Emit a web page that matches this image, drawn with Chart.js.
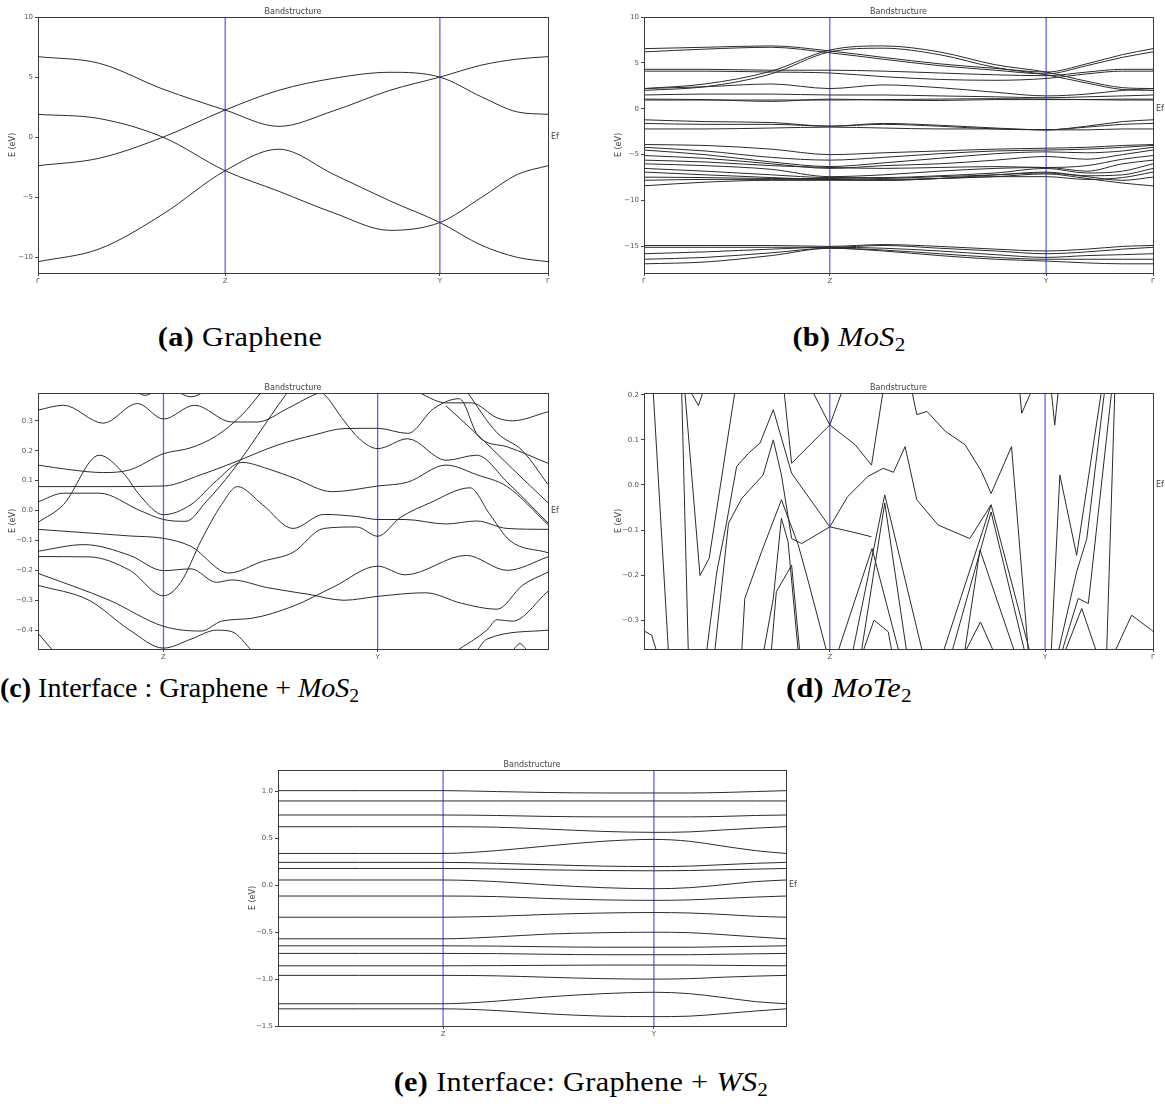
<!DOCTYPE html>
<html>
<head>
<meta charset="utf-8">
<script src="https://cdn.jsdelivr.net/npm/chart.js@4.4.1/dist/chart.umd.min.js"></script>
<style>
  body { margin: 0; background: #fff; width: 1165px; height: 1109px; position: relative; overflow: hidden; }
  canvas { position: absolute; }
  .cap { position: absolute; font-family: 'Liberation Serif', serif; font-size: 28px; line-height: 1; color: #000;
         white-space: nowrap; transform: translate(-50%, -50%) scaleX(1.08); letter-spacing: 0.3px; }
  .cap.left { transform: translateY(-50%); transform-origin: left center; letter-spacing: 0; }
  .cap sub { font-size: 0.7em; vertical-align: -0.25em; line-height: 0; }
</style>
</head>
<body>
<canvas id="chartA" width="560" height="290" style="left:0;top:0"></canvas>
<canvas id="chartB" width="565" height="290" style="left:600px;top:0"></canvas>
<canvas id="chartC" width="560" height="292" style="left:0;top:375px"></canvas>
<canvas id="chartD" width="565" height="292" style="left:600px;top:375px"></canvas>
<canvas id="chartE" width="560" height="292" style="left:240px;top:752px"></canvas>

<div class="cap" style="left:240px;top:337px"><b>(a)</b> Graphene</div>
<div class="cap" style="left:849px;top:337px"><b>(b)</b> <i>MoS</i><sub>2</sub></div>
<div class="cap left" style="left:0;top:688px"><b>(c)</b> Interface : Graphene + <i>MoS</i><sub>2</sub></div>
<div class="cap" style="left:849px;top:688px"><b>(d)</b> <i>MoTe</i><sub>2</sub></div>
<div class="cap" style="left:581px;top:1082px"><b>(e)</b> Interface: Graphene + <i>WS</i><sub>2</sub></div>

<script>
// ---- (a) Graphene ----
const grapheneK = [0, 0.367, 0.788, 1];
const grapheneKLabels = ['Γ', 'Z', 'Y', 'Γ'];
const grapheneYTicks = [-10, -5, 0, 5, 10];
const grapheneGrid = [0, 0.12, 0.245, 0.367, 0.472, 0.58, 0.69, 0.788, 0.87, 0.94, 1.0];
const grapheneBand1 = [6.7, 6.15, 4.0, 2.26, 0.9, 2.2, 3.9, 5.0, 6.0, 6.5, 6.7];
const grapheneBand2 = [-2.37, -1.75, 0.0, 2.26, 3.9, 4.9, 5.4, 5.0, 3.35, 2.1, 1.9];
const grapheneBand3 = [1.9, 1.55, 0.0, -2.79, -4.5, -6.3, -7.75, -7.1, -5.0, -3.1, -2.37];
const grapheneBand4 = [-10.36, -9.3, -6.4, -2.79, -1.0, -3.1, -5.3, -7.1, -9.0, -10.0, -10.36];

// ---- (b) MoS2 ----
const mos2K = [0, 0.365, 0.79, 1];
const mos2KLabels = ['Γ', 'Z', 'Y', 'Γ'];
const mos2YTicks = [-15, -10, -5, 0, 5, 10];
const mos2Grid = [0, 0.12, 0.25, 0.365, 0.47, 0.58, 0.69, 0.79, 0.87, 0.94, 1.0];
const mos2Conduction = [
  [6.55, 6.7, 6.85, 6.3, 5.6, 4.9, 4.4, 4.0, 4.9, 5.9, 6.55],
  [6.2, 6.5, 6.7, 6.1, 5.4, 4.7, 4.2, 3.8, 4.7, 5.6, 6.2],
  [2.2, 2.7, 4.1, 6.4, 6.85, 6.2, 4.8, 4.0, 3.0, 2.3, 2.2],
  [2.0, 2.4, 3.8, 6.2, 6.6, 5.9, 4.5, 3.7, 2.8, 2.1, 2.0],
  [4.3, 4.3, 4.2, 4.2, 4.1, 3.9, 3.7, 3.6, 4.0, 4.3, 4.3],
  [4.1, 4.1, 4.0, 3.9, 3.5, 3.2, 3.1, 3.3, 3.8, 4.1, 4.1],
  [2.2, 2.4, 2.7, 2.2, 2.6, 2.3, 1.8, 1.4, 1.6, 2.0, 2.2],
  [1.5, 1.6, 1.6, 1.5, 1.5, 1.4, 1.3, 1.2, 1.3, 1.4, 1.5],
  [1.05, 1.0, 0.8, 1.05, 0.95, 0.9, 1.0, 1.0, 1.0, 1.05, 1.05],
  [0.95, 0.95, 0.95, 0.95, 1.0, 1.05, 1.1, 1.05, 1.0, 0.95, 0.95]
];
const mos2Valence = [
  [-1.2, -1.4, -1.5, -1.9, -1.6, -1.8, -2.1, -2.3, -1.9, -1.4, -1.2],
  [-1.6, -1.7, -1.7, -1.9, -1.7, -1.9, -2.2, -2.3, -2.0, -1.7, -1.6],
  [-2.2, -2.2, -2.1, -2.0, -2.1, -2.2, -2.2, -2.3, -2.3, -2.2, -2.2],
  [-3.9, -4.0, -4.4, -5.0, -4.8, -4.6, -4.4, -4.3, -4.2, -4.0, -3.9],
  [-4.2, -4.6, -5.3, -5.6, -5.3, -4.9, -4.6, -4.5, -4.4, -4.2, -4.0],
  [-4.5, -5.0, -5.8, -6.3, -5.9, -5.4, -4.9, -4.7, -4.8, -4.6, -4.2],
  [-5.1, -5.4, -6.0, -6.5, -6.2, -6.0, -5.6, -5.2, -5.5, -5.0, -4.5],
  [-5.6, -5.8, -6.2, -6.4, -6.5, -6.4, -6.3, -6.4, -6.2, -5.5, -5.1],
  [-6.0, -6.2, -6.6, -7.4, -7.2, -6.8, -6.5, -6.4, -6.8, -6.0, -5.6],
  [-6.5, -6.8, -7.2, -7.5, -7.5, -7.3, -7.0, -6.5, -7.0, -6.8, -6.0],
  [-6.9, -7.2, -7.5, -7.7, -7.6, -7.4, -7.2, -6.9, -7.3, -7.2, -6.5],
  [-7.45, -7.5, -7.6, -7.6, -7.7, -7.6, -7.4, -7.4, -7.7, -7.5, -6.9],
  [-7.8, -7.7, -7.7, -7.7, -7.8, -7.6, -7.2, -7.0, -7.4, -7.8, -7.45],
  [-8.4, -8.0, -7.8, -7.8, -7.8, -7.6, -7.4, -7.1, -7.6, -8.1, -8.4]
];
const mos2Deep = [
  [-14.9, -14.9, -14.9, -15.0, -14.8, -15.0, -15.3, -15.5, -15.3, -15.0, -14.9],
  [-15.1, -15.1, -15.1, -15.1, -14.9, -15.2, -15.5, -15.8, -15.6, -15.3, -15.1],
  [-15.8, -15.6, -15.3, -15.1, -15.2, -15.5, -15.9, -16.2, -16.0, -15.9, -15.8],
  [-16.4, -16.2, -15.7, -15.2, -15.4, -15.8, -16.2, -16.4, -16.4, -16.4, -16.4],
  [-16.9, -16.7, -16.0, -15.2, -15.5, -16.0, -16.4, -16.6, -16.8, -16.9, -16.9]
];

// ---- (c) Interface: Graphene + MoS2 ([k, E] pairs) ----
const ifaceMoS2K = [0.246, 0.666];
const ifaceMoS2KLabels = ['Z', 'Y'];
const ifaceMoS2YTicks = [-0.4, -0.3, -0.2, -0.1, 0.0, 0.1, 0.2, 0.3];
const ifaceMoS2Bands = [
  [[0,0.336],[0.05,0.352],[0.128,0.292],[0.195,0.358],[0.246,0.306],[0.307,0.352],[0.38,0.296],[0.43,0.296],[0.49,0.342],[0.54,0.386],[0.58,0.41]],
  [[0.52,0.41],[0.56,0.39],[0.6,0.3],[0.63,0.24],[0.666,0.207],[0.725,0.24],[0.8,0.168],[0.86,0.185],[0.92,0.095],[1.0,-0.042]],
  [[0,0.152],[0.065,0.136],[0.128,0.127],[0.18,0.136],[0.246,0.19],[0.3,0.21],[0.35,0.25],[0.4,0.32],[0.44,0.4],[0.46,0.44]],
  [[0,0.08],[0.135,0.08],[0.246,0.082],[0.32,0.12],[0.38,0.158],[0.47,0.219],[0.54,0.252],[0.6,0.274],[0.666,0.275],[0.725,0.258],[0.776,0.341],[0.826,0.374],[0.864,0.247],[0.92,0.213],[1.0,0.158]],
  [[0,-0.04],[0.05,0.02],[0.12,0.185],[0.17,0.12],[0.2,0.05],[0.246,-0.014],[0.3,0.02],[0.35,0.1],[0.4,0.161],[0.45,0.14],[0.5,0.11],[0.577,0.063],[0.666,0.082],[0.725,0.095],[0.8,0.152],[0.86,0.12],[0.92,0.08],[1.0,-0.047]],
  [[0,0.029],[0.05,0.058],[0.12,0.058],[0.2,0.0],[0.246,-0.03],[0.29,-0.036],[0.33,0.03],[0.38,0.13],[0.43,0.25],[0.47,0.35],[0.5,0.42]],
  [[0,-0.063],[0.1,-0.075],[0.18,-0.085],[0.246,-0.093],[0.3,-0.12],[0.374,-0.209],[0.44,-0.17],[0.5,-0.14],[0.56,-0.06],[0.625,-0.055],[0.666,-0.086],[0.71,-0.024],[0.769,0.026],[0.847,0.076],[0.886,-0.013],[0.925,-0.1],[1.0,-0.141]],
  [[0,-0.136],[0.09,-0.114],[0.18,-0.15],[0.246,-0.201],[0.3,-0.195],[0.35,-0.24],[0.38,-0.232],[0.45,-0.258],[0.53,-0.28],[0.6,-0.3],[0.666,-0.287],[0.76,-0.275],[0.83,-0.31],[0.9,-0.33],[0.95,-0.25],[1.0,-0.206]],
  [[0,-0.154],[0.1,-0.155],[0.18,-0.2],[0.246,-0.285],[0.28,-0.24],[0.32,-0.1],[0.36,0.02],[0.391,0.08],[0.44,0.02],[0.5,-0.06],[0.56,-0.013],[0.625,-0.02],[0.666,-0.03],[0.72,-0.03],[0.8,-0.045],[0.86,-0.035],[0.92,-0.06],[1.0,-0.063]],
  [[0,-0.21],[0.14,-0.3],[0.246,-0.387],[0.32,-0.403],[0.36,-0.37],[0.42,-0.36],[0.5,-0.32],[0.58,-0.255],[0.666,-0.186],[0.72,-0.215],[0.84,-0.15],[0.92,-0.2],[1.0,-0.155]],
  [[0,-0.25],[0.1,-0.3],[0.18,-0.4],[0.246,-0.46],[0.3,-0.43],[0.35,-0.4],[0.38,-0.405],[0.42,-0.47]],
  [[0,-0.41],[0.03,-0.47]],
  [[0.82,-0.47],[0.88,-0.4],[0.9,-0.365],[0.93,-0.37],[1.0,-0.27]],
  [[0.86,-0.47],[0.88,-0.43],[1.0,-0.4]],
  [[0.93,-0.47],[0.945,-0.445],[0.96,-0.47]],
  [[0.19,0.4],[0.21,0.385],[0.23,0.4]],
  [[0.27,0.4],[0.3,0.38],[0.33,0.4]],
  [[0.74,0.4],[0.8,0.36],[0.85,0.36],[0.9,0.31],[0.93,0.3],[1.0,0.33]],
  [[0.84,0.4],[0.9,0.26],[0.95,0.2],[1.0,0.087]],
  [[0.8,0.35],[0.87,0.24],[0.93,0.14],[1.0,0.026]]
];

// ---- (d) MoTe2 ([k, E] pairs, straight segments) ----
const mote2K = [0.365, 0.788, 1];
const mote2KLabels = ['Z', 'Y', 'Γ'];
const mote2YTicks = [-0.3, -0.2, -0.1, 0.0, 0.1, 0.2];
const mote2Bands = [
  [[0,-0.324],[0.015,-0.333],[0.025,-0.37]],
  [[0.018,0.21],[0.048,-0.37]],
  [[0.074,0.21],[0.087,-0.37]],
  [[0.08,0.21],[0.11,-0.201],[0.128,-0.163],[0.179,0.21]],
  [[0.09,0.21],[0.107,0.176],[0.117,0.21]],
  [[0.123,-0.37],[0.143,-0.193],[0.162,-0.085],[0.182,0.041],[0.205,0.07],[0.228,0.093],[0.254,0.167],[0.29,0.026],[0.365,-0.093],[0.4,-0.026],[0.44,0.019],[0.47,0.037],[0.49,0.028],[0.513,0.085],[0.536,-0.033],[0.578,-0.089],[0.64,-0.119],[0.682,-0.044]],
  [[0.139,-0.37],[0.166,-0.085],[0.192,-0.03],[0.234,0.022],[0.254,0.1],[0.27,0.022],[0.29,-0.119],[0.31,-0.13],[0.365,-0.093],[0.408,-0.104],[0.447,-0.115]],
  [[0.192,-0.37],[0.198,-0.252],[0.231,-0.148],[0.27,-0.033],[0.303,-0.133],[0.323,-0.215],[0.359,-0.37]],
  [[0.235,-0.37],[0.254,-0.252],[0.27,-0.074],[0.283,-0.126],[0.303,-0.37]],
  [[0.25,-0.37],[0.26,-0.237],[0.29,-0.178],[0.306,-0.37]],
  [[0.33,0.21],[0.365,0.133],[0.39,0.21]],
  [[0.275,0.21],[0.29,0.048],[0.365,0.133],[0.415,0.089],[0.447,0.044],[0.47,0.21]],
  [[0.41,-0.37],[0.473,-0.022],[0.547,-0.37]],
  [[0.427,-0.37],[0.473,-0.04],[0.516,-0.37]],
  [[0.381,-0.37],[0.448,-0.141],[0.501,-0.37]],
  [[0.43,-0.37],[0.452,-0.3],[0.48,-0.326],[0.487,-0.37]],
  [[0.526,0.21],[0.536,0.156],[0.556,0.163],[0.592,0.119],[0.631,0.089],[0.663,0.03],[0.682,-0.019],[0.722,0.085],[0.755,-0.37]],
  [[0.588,-0.37],[0.682,-0.044],[0.758,-0.37]],
  [[0.605,-0.37],[0.682,-0.06],[0.748,-0.37]],
  [[0.63,-0.37],[0.66,-0.144],[0.728,-0.37]],
  [[0.631,-0.37],[0.661,-0.304],[0.687,-0.37]],
  [[0.738,0.21],[0.742,0.159],[0.762,0.21]],
  [[0.8,0.21],[0.807,0.133],[0.814,0.21]],
  [[0.8,-0.37],[0.817,0.022],[0.85,-0.156],[0.899,0.21]],
  [[0.814,-0.37],[0.85,-0.193],[0.87,-0.119],[0.905,0.21]],
  [[0.821,-0.37],[0.853,-0.252],[0.873,-0.263],[0.919,0.21]],
  [[0.827,-0.37],[0.86,-0.274],[0.889,-0.37]],
  [[0.909,-0.37],[0.925,0.21]],
  [[0.925,-0.37],[0.958,-0.289],[0.997,-0.322],[1.0,-0.325]]
];

// ---- (e) Interface: Graphene + WS2 ----
const ifaceWS2K = [0.325, 0.74];
const ifaceWS2KLabels = ['Z', 'Y'];
const ifaceWS2YTicks = [-1.5, -1.0, -0.5, 0.0, 0.5, 1.0];
const ifaceWS2Grid = [0, 0.16, 0.325, 0.43, 0.53, 0.64, 0.74, 0.81, 0.874, 0.94, 1.0];
const ifaceWS2Bands = [
  [1.01, 1.01, 1.01, 1.0, 0.99, 0.985, 0.985, 0.985, 0.99, 1.0, 1.01],
  [0.9, 0.9, 0.9, 0.9, 0.9, 0.9, 0.9, 0.9, 0.9, 0.9, 0.9],
  [0.75, 0.75, 0.75, 0.745, 0.735, 0.73, 0.73, 0.73, 0.735, 0.745, 0.75],
  [0.625, 0.625, 0.625, 0.62, 0.6, 0.575, 0.565, 0.57, 0.59, 0.61, 0.625],
  [0.34, 0.34, 0.34, 0.37, 0.42, 0.47, 0.49, 0.47, 0.42, 0.37, 0.34],
  [0.245, 0.245, 0.245, 0.235, 0.22, 0.205, 0.2, 0.205, 0.22, 0.235, 0.245],
  [0.18, 0.18, 0.18, 0.175, 0.165, 0.158, 0.155, 0.158, 0.165, 0.173, 0.18],
  [0.057, 0.057, 0.057, 0.04, 0.005, -0.025, -0.036, -0.025, 0.005, 0.04, 0.057],
  [-0.114, -0.114, -0.114, -0.12, -0.14, -0.155, -0.16, -0.155, -0.14, -0.125, -0.114],
  [-0.34, -0.34, -0.34, -0.33, -0.31, -0.295, -0.29, -0.295, -0.31, -0.33, -0.34],
  [-0.57, -0.57, -0.57, -0.55, -0.52, -0.505, -0.5, -0.505, -0.525, -0.55, -0.57],
  [-0.645, -0.645, -0.645, -0.648, -0.655, -0.66, -0.66, -0.66, -0.655, -0.65, -0.645],
  [-0.726, -0.726, -0.726, -0.728, -0.735, -0.74, -0.74, -0.74, -0.735, -0.73, -0.726],
  [-0.858, -0.858, -0.858, -0.856, -0.853, -0.85, -0.85, -0.85, -0.853, -0.856, -0.858],
  [-0.96, -0.96, -0.96, -0.965, -0.98, -0.995, -1.0, -0.995, -0.98, -0.968, -0.96],
  [-1.263, -1.263, -1.263, -1.235, -1.19, -1.155, -1.14, -1.155, -1.195, -1.24, -1.263],
  [-1.317, -1.317, -1.317, -1.335, -1.37, -1.395, -1.4, -1.395, -1.37, -1.34, -1.317]
];

const onGrid = (grid, bands) => bands.map(b => b.map((e, i) => [grid[i], e]));

// frame, title, axis label and Fermi mark, drawn like the matplotlib plots
const framePlugin = {
  id: 'frame',
  afterDraw(chart) {
    const { ctx, chartArea: a } = chart;
    ctx.save();
    ctx.strokeStyle = '#3a3a3a';
    ctx.lineWidth = 1;
    ctx.strokeRect(Math.round(a.left) + 0.5, Math.round(a.top) + 0.5,
      Math.round(a.right - a.left), Math.round(a.bottom - a.top));
    ctx.fillStyle = '#444';
    ctx.font = '8px "DejaVu Sans"';
    ctx.textAlign = 'center';
    ctx.textBaseline = 'bottom';
    ctx.fillText('Bandstructure', (a.left + a.right) / 2, a.top - 1);
    ctx.textAlign = 'left';
    ctx.textBaseline = 'middle';
    ctx.fillText('Ef', a.right + 3, chart.scales.y.getPixelForValue(0));
    ctx.translate(a.left - 25, (a.top + a.bottom) / 2);
    ctx.rotate(-Math.PI / 2);
    ctx.textAlign = 'center';
    ctx.fillText('E (eV)', 0, 0);
    ctx.restore();
  }
};

function bandChart(id, o) {
  const datasets = o.bands.map(b => ({
    data: b.map(p => ({ x: p[0], y: p[1] })),
    borderColor: '#2b2b2b',
    borderWidth: 1,
    pointRadius: 0,
    cubicInterpolationMode: o.smooth ? 'monotone' : 'default',
    tension: 0
  }));
  o.marks.forEach(k => datasets.push({
    data: [{ x: k, y: o.yMin }, { x: k, y: o.yMax }],
    borderColor: '#6060ff',
    borderWidth: 1.3,
    pointRadius: 0
  }));
  const tickFont = { family: 'DejaVu Sans', size: 7 };
  return new Chart(document.getElementById(id), {
    type: 'line',
    data: { datasets },
    plugins: [framePlugin],
    options: {
      responsive: false,
      animation: false,
      events: [],
      layout: { padding: { top: o.padTop, right: o.padRight, left: 0, bottom: 0 } },
      plugins: { legend: { display: false }, tooltip: { enabled: false } },
      scales: {
        x: {
          type: 'linear', min: 0, max: 1,
          afterBuildTicks: s => { s.ticks = o.kTicks.map(v => ({ value: v })); },
          afterFit: s => { s.height = o.bottomH; },
          ticks: { font: tickFont, color: '#555', padding: 1, autoSkip: false, maxRotation: 0,
                   callback: (v, i) => o.kLabels[i] },
          grid: { drawOnChartArea: false, tickLength: 3, color: '#444' },
          border: { color: '#3a3a3a' }
        },
        y: {
          type: 'linear', min: o.yMin, max: o.yMax,
          afterBuildTicks: s => { s.ticks = o.yTicks.map(v => ({ value: v })); },
          afterFit: s => { s.width = o.leftW; },
          ticks: { font: tickFont, color: '#555', padding: 2,
                   callback: v => (o.dec ? v.toFixed(o.dec) : String(v)).replace('-', '−') },
          grid: { drawOnChartArea: false, tickLength: 3, color: '#444' },
          border: { color: '#3a3a3a' }
        }
      }
    }
  });
}

bandChart('chartA', {
  bands: onGrid(grapheneGrid, [grapheneBand1, grapheneBand2, grapheneBand3, grapheneBand4]),
  smooth: true, marks: grapheneK.slice(1, 3), kTicks: grapheneK, kLabels: grapheneKLabels,
  yMin: -11.3, yMax: 10, yTicks: grapheneYTicks, dec: 0,
  padTop: 17, padRight: 12, leftW: 38, bottomH: 17
});

bandChart('chartB', {
  bands: onGrid(mos2Grid, mos2Conduction.concat(mos2Valence, mos2Deep)),
  smooth: true, marks: mos2K.slice(1, 3), kTicks: mos2K, kLabels: mos2KLabels,
  yMin: -17.9, yMax: 10, yTicks: mos2YTicks, dec: 0,
  padTop: 17, padRight: 12, leftW: 44, bottomH: 17
});

bandChart('chartC', {
  bands: ifaceMoS2Bands,
  smooth: true, marks: ifaceMoS2K, kTicks: ifaceMoS2K, kLabels: ifaceMoS2KLabels,
  yMin: -0.463, yMax: 0.393, yTicks: ifaceMoS2YTicks, dec: 1,
  padTop: 18, padRight: 12, leftW: 38, bottomH: 18
});

bandChart('chartD', {
  bands: mote2Bands,
  smooth: false, marks: mote2K.slice(0, 2), kTicks: mote2K, kLabels: mote2KLabels,
  yMin: -0.364, yMax: 0.204, yTicks: mote2YTicks, dec: 1,
  padTop: 18, padRight: 12, leftW: 44, bottomH: 18
});

bandChart('chartE', {
  bands: onGrid(ifaceWS2Grid, ifaceWS2Bands),
  smooth: true, marks: ifaceWS2K, kTicks: ifaceWS2K, kLabels: ifaceWS2KLabels,
  yMin: -1.5, yMax: 1.23, yTicks: ifaceWS2YTicks, dec: 1,
  padTop: 18, padRight: 14, leftW: 38, bottomH: 18
});
</script>
</body>
</html>
